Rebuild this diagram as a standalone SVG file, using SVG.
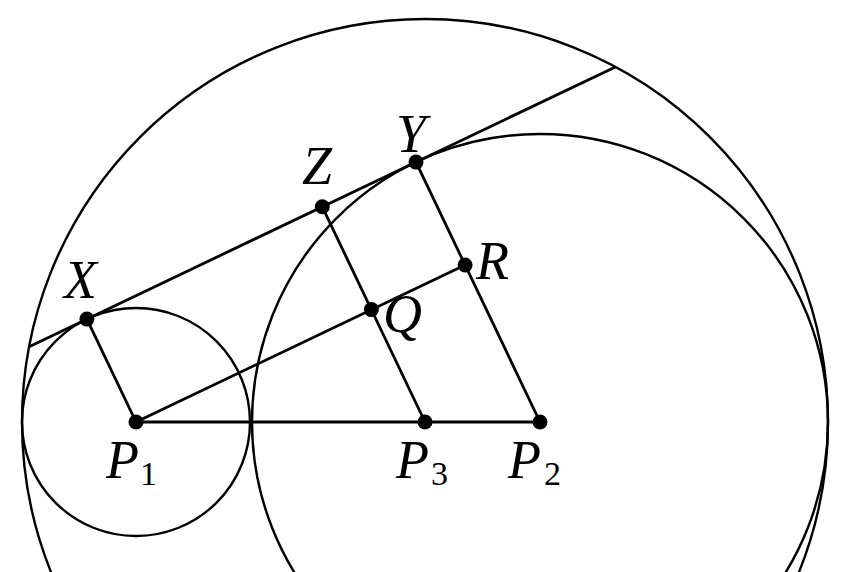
<svg xmlns="http://www.w3.org/2000/svg" width="843" height="572" viewBox="0 0 843 572">
<style>
.c{fill:none;stroke:#000;stroke-width:2.4}
.l{stroke:#000;stroke-width:2.8;fill:none}
.d{fill:#000}
.t{font-family:"Liberation Serif","DejaVu Serif",serif;font-style:italic;font-size:54px;fill:#000}
.s{font-family:"Liberation Serif","DejaVu Serif",serif;font-size:34px;fill:#000}
</style>
<rect width="843" height="572" fill="#fff"/>
<g id="circles">
<circle id="outer" class="c" cx="425" cy="422" r="403"/>
<circle id="small" class="c" cx="136" cy="422" r="114"/>
<circle id="big" class="c" cx="540" cy="422" r="288"/>
</g>
<g id="connectors">
<line class="l" x1="29.1" y1="346.7" x2="615.4" y2="66.9"/>
<line class="l" x1="86.9" y1="319.1" x2="136" y2="422"/>
<line class="l" x1="136" y1="422" x2="465.1" y2="265"/>
<line class="l" x1="416" y1="162.1" x2="540" y2="422"/>
<line class="l" x1="322.3" y1="206.8" x2="425" y2="422"/>
<line class="l" x1="136" y1="422" x2="540" y2="422"/>
</g>
<g id="X"><circle class="d" cx="86.9" cy="319.1" r="7.5"/><text class="t" x="64" y="298">X</text></g>
<g id="Y"><circle class="d" cx="416" cy="162.1" r="7.5"/><text class="t" x="396" y="152">Y</text></g>
<g id="Z"><circle class="d" cx="322.3" cy="206.8" r="7.5"/><text class="t" x="302" y="184">Z</text></g>
<g id="R"><circle class="d" cx="465.1" cy="265" r="7.5"/><text class="t" x="476" y="279">R</text></g>
<g id="Q"><circle class="d" cx="371.4" cy="309.6" r="7.5"/><text class="t" x="383" y="332">Q</text></g>
<g id="P1"><circle class="d" cx="136" cy="422" r="7.5"/><text class="t" x="106" y="478">P</text><text class="s" x="140" y="485">1</text></g>
<g id="P3"><circle class="d" cx="425" cy="422" r="7.5"/><text class="t" x="396" y="478">P</text><text class="s" x="431" y="485">3</text></g>
<g id="P2"><circle class="d" cx="540" cy="422" r="7.5"/><text class="t" x="508" y="478">P</text><text class="s" x="544" y="485">2</text></g>
</svg>
